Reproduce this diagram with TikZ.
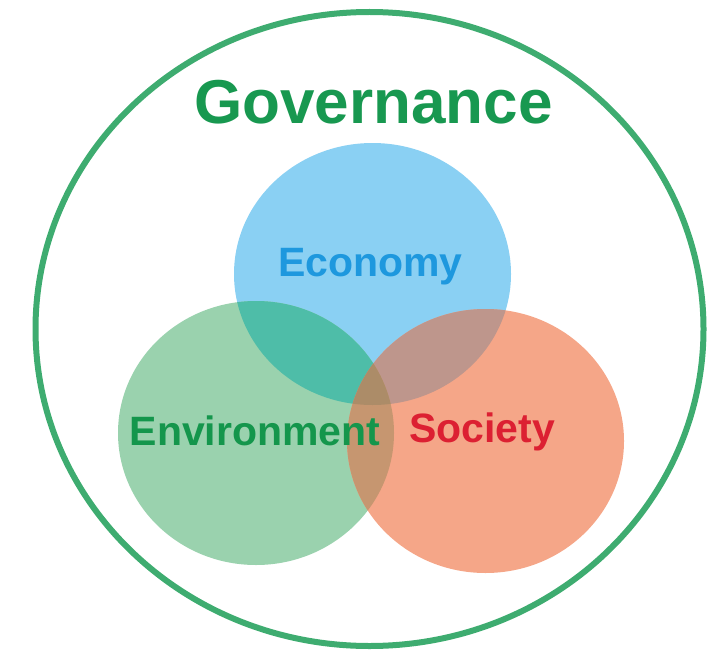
\documentclass[tikz,border=0pt]{standalone}
\usepackage{fontspec}
\setmainfont{Liberation Sans}
\usepackage{xcolor}
\usepackage{tikz}

\definecolor{ringgreen}{RGB}{62,172,112}
\definecolor{govgreen}{RGB}{24,152,80}
\definecolor{econfill}{RGB}{138,208,243}
\definecolor{envfill}{RGB}{154,210,174}
\definecolor{socfill}{RGB}{245,166,136}
\definecolor{econenv}{RGB}{78,189,168}
\definecolor{econsoc}{RGB}{190,150,140}
\definecolor{envsoc}{RGB}{198,150,112}
\definecolor{allthree}{RGB}{172,140,104}
\definecolor{econtext}{RGB}{30,152,222}
\definecolor{envtext}{RGB}{20,150,76}
\definecolor{soctext}{RGB}{220,32,50}

\begin{document}
\begin{tikzpicture}[x=1pt, y=-1pt,
lbl/.style={font=\fontsize{41}{41}\selectfont\bfseries, inner sep=0pt},
title/.style={font=\fontsize{62}{62}\selectfont\bfseries, inner sep=0pt, text=govgreen}
]
\useasboundingbox (0,0) rectangle (714,650);

\coordinate (ec) at (372.5,274);
\coordinate (en) at (256,433);
\coordinate (so) at (485.5,441);

% circles
\fill[econfill] (ec) ellipse [x radius=138.5, y radius=131];
\fill[envfill] (en) ellipse [x radius=138, y radius=132];
\fill[socfill] (so) ellipse [x radius=138.5, y radius=132];

% overlaps
\begin{scope}
\clip (ec) ellipse [x radius=138.5, y radius=131];
\fill[econenv] (en) ellipse [x radius=138, y radius=132];
\fill[econsoc] (so) ellipse [x radius=138.5, y radius=132];
\end{scope}
\begin{scope}
\clip (en) ellipse [x radius=138, y radius=132];
\fill[envsoc] (so) ellipse [x radius=138.5, y radius=132];
\clip (so) ellipse [x radius=138.5, y radius=132];
\fill[allthree] (ec) ellipse [x radius=138.5, y radius=131];
\end{scope}

% outer ring
\draw[ringgreen, line width=6pt] (369.5,329) ellipse [x radius=334, y radius=317];

\node[title](gov) at (373.5,102){Governance};
\node[lbl, text=econtext](econ) at (370.5,266.5){Economy};
\node[lbl, text=envtext](env) at (255,431){Environment};
\node[lbl, text=soctext](soc) at (482,432){Society};

\end{tikzpicture}
\end{document}
